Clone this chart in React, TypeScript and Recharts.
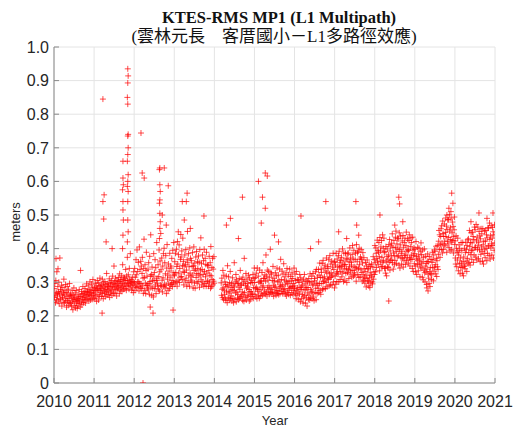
import React from 'react';
import { ScatterChart, Scatter, XAxis, YAxis, CartesianGrid } from 'recharts';

const xTicks = [2010, 2011, 2012, 2013, 2014, 2015, 2016, 2017, 2018, 2019, 2020, 2021];
const yTicks = [0, 0.1, 0.2, 0.3, 0.4, 0.5, 0.6, 0.7, 0.8, 0.9, 1];
const yTickLabels = ['0', '0.1', '0.2', '0.3', '0.4', '0.5', '0.6', '0.7', '0.8', '0.9', '1.0'];

// MP1 values in mm, one string per month (empty = no data)
const mp2010 = [
  '281 254 296 262 239 305 270 248 331 266', '259 287 244 271 300 236 265 372 252 278',
  '248 273 291 229 262 255 284 240 268 309', '262 238 276 251 293 244 270 226 258 287',
  '245 268 231 279 252 240 296 259 236 264', '238 261 227 253 275 244 218 262 249 283',
  '231 256 242 268 224 249 275 238 253 222', '246 229 263 251 237 278 244 258 226 335',
  '258 241 272 233 266 249 287 254 239 268', '264 247 281 256 238 273 261 295 249 270',
  '272 251 289 263 244 278 259 301 268 247', '276 259 294 268 249 283 308 262 274 253',
];
const mp2011 = [
  '268 284 252 297 275 259 288 243 279 305', '281 263 298 247 276 290 258 312 270 286',
  '276 294 258 281 309 266 289 251 298 274', '285 268 302 257 279 293 271 326 262 288',
  '279 296 263 288 274 310 255 283 299 268', '292 274 305 261 287 318 279 296 266 348',
  '285 301 268 294 312 277 289 259 305 282', '297 279 314 288 302 266 325 291 276 308',
  '301 284 319 273 296 352 288 307 279 315', '294 312 281 305 338 289 276 318 298 374',
  '305 288 322 296 279 341 309 292 385 301', '289 307 276 298 315 283 302 269 331 294',
];
const mp2012 = [
  '298 341 276 315 289 367 322 284 396 301', '332 287 359 301 274 405 296 338 283 362',
  '295 348 281 326 374 289 312 267 341 428', '314 276 352 297 266 335 389 291 318 282',
  '291 339 277 358 296 264 377 302 318 441', '286 323 261 345 304 282 318 256 385 306',
  '329 281 367 292 343 266 305 418 312 297', '288 352 279 317 396 274 331 363 291 445',
  '337 289 372 306 271 348 313 385 287 401', '294 358 283 325 379 291 266 342 412 309',
  '321 276 354 297 333 281 386 315 292 348', '342 294 371 305 287 395 328 299 418 319',
];
const mp2013 = [
  '322 361 295 386 329 302 398 347 288 421', '354 306 382 327 411 299 341 315 368 442',
  '375 317 393 308 349 431 331 362 292 348', '329 381 304 352 397 312 336 288 367 451',
  '358 299 385 321 346 288 402 327 371 306', '316 364 301 347 388 321 283 349 405 335',
  '298 357 282 339 375 314 391 326 297 361', '341 302 378 324 359 285 397 319 336 432',
  '307 355 292 338 381 301 323 364 288 398', '332 296 371 316 353 288 389 327 302 349',
  '304 351 288 335 377 298 321 358 282 406', '319 287 344 308 371 292 339 303 376 297',
];
const mp2014 = [
  '', '',
  '298 261 312 279 254 335 283 248 321 276', '264 301 252 293 246 318 271 287 239 349',
  '291 255 316 273 247 299 268 332 251 284', '259 296 244 278 313 252 291 239 275 358',
  '286 249 301 268 323 242 307 271 296 253', '263 297 248 285 311 252 279 335 257 291',
  '292 259 308 271 246 315 264 297 243 371', '269 303 254 291 326 247 282 309 258 286',
  '296 261 321 278 244 313 272 248 299 264', '271 306 257 298 265 323 252 284 311 342',
];
const mp2015 = [
  '299 264 314 281 256 327 285 251 342 278', '273 318 261 300 252 336 279 303 258 297',
  '304 268 329 285 261 358 289 311 266 312', '277 322 264 303 381 271 318 259 336 284',
  '306 271 332 289 264 315 282 398 269 328', '278 324 266 305 271 347 291 258 312 285',
  '303 269 328 286 261 319 274 342 266 301', '275 321 263 304 282 339 266 292 368 287',
  '308 273 333 291 266 324 278 355 271 306', '281 316 265 294 328 259 303 341 269 297',
  '276 322 264 303 281 339 288 261 317 284', '304 269 328 287 311 263 296 275 342 281',
];
const mp2016 = [
  '289 324 266 305 251 332 277 261 308 283', '271 306 248 299 265 323 284 242 313 278',
  '286 251 303 264 291 238 309 256 277 323', '261 295 238 279 306 253 284 229 302 268',
  '284 249 311 262 298 247 325 253 278 302', '273 318 251 291 268 326 256 294 245 311',
  '304 269 331 282 248 338 297 266 315 291', '282 338 269 321 296 357 275 314 264 339',
  '329 296 356 278 313 365 302 281 342 316', '304 351 281 333 299 372 328 286 347 311',
  '341 308 367 289 325 379 314 292 354 328', '316 363 292 345 321 386 301 338 359 283',
];
const mp2017 = [
  '362 318 351 294 386 327 302 369 331 346', '324 379 301 392 343 358 308 365 332 347',
  '374 316 349 399 328 363 302 387 339 352', '306 353 386 326 371 341 299 367 329 384',
  '387 338 311 361 346 402 324 372 334 359', '351 315 382 409 335 369 318 395 346 328',
  '321 367 386 344 303 412 339 361 388 323', '392 341 314 401 352 369 316 375 337 397',
  '368 329 303 357 388 322 306 373 341 315', '297 332 359 311 286 348 321 366 303 339',
  '341 304 289 353 313 284 328 346 298 321', '354 316 301 295 345 376 309 331 367 323',
];
const mp2018 = [
  '409 358 331 402 386 344 371 425 363 395', '352 389 418 376 334 433 361 393 405 346',
  '424 374 346 441 358 401 365 431 388 341', '391 342 327 406 361 319 376 399 346 369',
  '344 381 412 359 427 336 393 365 408 378', '416 366 444 358 404 339 387 424 379 352',
  '365 403 434 452 391 356 414 376 431 399', '429 379 351 447 397 342 411 437 373 386',
  '354 392 423 371 439 345 404 366 418 379', '431 381 353 409 449 364 392 374 429 397',
  '357 394 424 441 372 348 406 368 432 381', '418 368 341 434 396 332 379 402 355 385',
];
const mp2019 = [
  '398 348 331 421 376 323 369 352 404 364', '334 381 401 354 369 316 392 345 417 357',
  '382 342 315 396 361 307 374 336 399 328', '301 348 377 331 356 293 339 362 384 324',
  '361 312 296 376 331 287 344 326 368 308', '322 359 389 343 367 304 381 333 396 345',
  '392 352 325 407 371 317 364 346 409 338', '383 422 454 397 441 374 412 436 459 398',
  '468 416 387 482 445 397 436 411 473 422', '408 448 491 436 467 389 457 422 486 414',
  '486 433 403 501 452 393 462 427 491 419', '397 447 479 424 466 387 436 456 494 412',
];
const mp2020 = [
  '423 372 354 438 401 346 393 366 431 388', '334 381 411 355 399 325 372 344 418 357',
  '394 344 327 418 362 319 375 347 401 351', '340 388 419 363 397 332 409 371 426 355',
  '429 388 359 454 406 351 418 382 447 394', '368 417 449 396 436 359 427 381 464 403',
  '456 404 375 472 423 366 434 398 464 410', '370 419 451 396 438 361 429 383 459 405',
  '444 392 363 459 411 354 422 386 452 398', '373 422 454 401 441 364 432 386 462 408',
  '461 408 379 476 427 369 438 402 468 414', '381 431 463 409 450 372 441 395 471 417',
];

const years: [number, string[]][] = [
  [2010, mp2010], [2011, mp2011], [2012, mp2012], [2013, mp2013], [2014, mp2014], [2015, mp2015],
  [2016, mp2016], [2017, mp2017], [2018, mp2018], [2019, mp2019], [2020, mp2020],
];

// isolated points: [decimal year, meters]
const outliers: [number, number][] = [
  [2010.05, 0.37], [2010.1, 0.34], [2011.22, 0.845], [2011.25, 0.56], [2011.22, 0.54], [2011.24, 0.488],
  [2011.2, 0.208], [2011.3, 0.42], [2011.45, 0.4],
  [2011.84, 0.935], [2011.85, 0.914], [2011.84, 0.893], [2011.83, 0.85], [2011.84, 0.83], [2011.85, 0.74],
  [2011.84, 0.735], [2011.85, 0.7], [2011.84, 0.68], [2011.83, 0.66], [2011.85, 0.62], [2011.84, 0.6],
  [2011.83, 0.585], [2011.85, 0.57], [2011.84, 0.54], [2011.84, 0.485], [2011.85, 0.45], [2011.83, 0.42],
  [2011.72, 0.66], [2011.72, 0.61], [2011.73, 0.59], [2011.71, 0.575], [2011.72, 0.54], [2011.72, 0.515],
  [2011.73, 0.485], [2011.72, 0.44], [2011.71, 0.4],
  [2012.17, 0.744], [2012.2, 0.625], [2012.25, 0.61], [2012.22, 0.0], [2012.47, 0.208], [2012.4, 0.226],
  [2012.64, 0.64], [2012.63, 0.635], [2012.64, 0.59], [2012.65, 0.57], [2012.64, 0.545], [2012.63, 0.535],
  [2012.64, 0.505], [2012.65, 0.48], [2012.64, 0.46], [2012.63, 0.43],
  [2012.75, 0.64], [2012.85, 0.587], [2012.7, 0.5], [2012.8, 0.47], [2012.97, 0.217],
  [2013.2, 0.54], [2013.3, 0.54], [2013.32, 0.565], [2013.25, 0.485], [2013.1, 0.45], [2013.4, 0.46],
  [2013.74, 0.497], [2014.4, 0.49], [2014.3, 0.47], [2014.7, 0.553], [2014.6, 0.43],
  [2015.1, 0.6], [2015.27, 0.625], [2015.32, 0.616], [2015.2, 0.553], [2015.27, 0.52], [2015.17, 0.476],
  [2015.5, 0.44], [2015.6, 0.42], [2016.16, 0.497], [2016.78, 0.54], [2016.4, 0.4], [2016.6, 0.42],
  [2017.53, 0.54], [2017.55, 0.47], [2017.1, 0.45], [2017.6, 0.44], [2017.3, 0.43],
  [2018.13, 0.5], [2018.6, 0.553], [2018.62, 0.533], [2018.35, 0.244], [2018.5, 0.47], [2018.7, 0.48],
  [2019.3, 0.283], [2019.33, 0.274], [2019.92, 0.565], [2019.85, 0.52], [2019.95, 0.535], [2019.8, 0.5],
  [2019.9, 0.51], [2020.6, 0.506], [2020.95, 0.506], [2020.4, 0.48], [2020.8, 0.49],
];

const points: { t: number; v: number }[] = [];
years.forEach(([yr, months]) => {
  months.forEach((s, m) => {
    const vals = s.split(' ').filter(Boolean);
    vals.forEach((val, i) => {
      points.push({ t: yr + (m + (i + 0.5) / vals.length) / 12, v: Number(val) / 1000 });
    });
  });
});
outliers.forEach(([t, v]) => points.push({ t, v }));

const AXIS = '#8a8a8a';
const LABEL = '#262626';
const TICK_LEN = 5;
const sans = '"Liberation Sans", Arial, sans-serif';

const PlusMark = (props: any) => {
  const { cx, cy } = props;
  if (cx == null || cy == null) return null;
  return (
    <path
      d={`M${cx - 3},${cy}h6M${cx},${cy - 3}v6`}
      stroke="#ff0000"
      strokeWidth={1}
      strokeOpacity={0.7}
      fill="none"
    />
  );
};

const BottomTick = ({ x, y, payload }: any) => (
  <g>
    <line x1={x} x2={x} y1={y} y2={y - TICK_LEN} stroke={AXIS} />
    <text x={x} y={y + 24} textAnchor="middle" fontSize={16} fill={LABEL} fontFamily={sans}>
      {payload.value}
    </text>
  </g>
);

const LeftTick = ({ x, y, payload, index }: any) => (
  <g>
    <line x1={x} x2={x + TICK_LEN} y1={y} y2={y} stroke={AXIS} />
    <text x={x - 5} y={y} dy="0.36em" textAnchor="end" fontSize={16} fill={LABEL} fontFamily={sans}>
      {yTickLabels[index] ?? payload.value}
    </text>
  </g>
);

const TopTick = ({ x, y }: any) => <line x1={x} x2={x} y1={y} y2={y + TICK_LEN} stroke={AXIS} />;
const RightTick = ({ x, y }: any) => <line x1={x} x2={x - TICK_LEN} y1={y} y2={y} stroke={AXIS} />;

export default function App() {
  return (
    <div style={{ position: 'absolute', left: 0, top: 0, width: 513, height: 427 }}>
      <ScatterChart width={513} height={427} margin={{ top: 47, right: 18, bottom: 0, left: 0 }}>
        <CartesianGrid stroke="#e4e4e4" horizontalValues={yTicks} verticalValues={xTicks} />
        <XAxis
          dataKey="t"
          type="number"
          domain={[2010, 2021]}
          ticks={xTicks}
          height={44}
          tickSize={0}
          tickMargin={0}
          tickLine={false}
          tick={<BottomTick />}
          axisLine={{ stroke: AXIS }}
          allowDataOverflow
        />
        <XAxis
          xAxisId="top"
          orientation="top"
          type="number"
          domain={[2010, 2021]}
          ticks={xTicks}
          height={0}
          tickSize={0}
          tickMargin={0}
          tickLine={false}
          tick={<TopTick />}
          axisLine={{ stroke: AXIS }}
        />
        <YAxis
          dataKey="v"
          type="number"
          domain={[0, 1]}
          ticks={yTicks}
          width={54}
          tickSize={0}
          tickMargin={0}
          tickLine={false}
          tick={<LeftTick />}
          axisLine={{ stroke: AXIS }}
          allowDataOverflow
        />
        <YAxis
          yAxisId="right"
          orientation="right"
          type="number"
          domain={[0, 1]}
          ticks={yTicks}
          width={0}
          tickSize={0}
          tickMargin={0}
          tickLine={false}
          tick={<RightTick />}
          axisLine={{ stroke: AXIS }}
        />
        <Scatter data={points} dataKey="v" shape={PlusMark} isAnimationActive={false} />
      </ScatterChart>
      <svg
        width={513}
        height={427}
        style={{ position: 'absolute', left: 0, top: 0, pointerEvents: 'none' }}
      >
        <text
          x={279}
          y={23}
          textAnchor="middle"
          fontSize={16.5}
          fontWeight="bold"
          fill="#111"
          fontFamily='"Liberation Serif", "Times New Roman", serif'
        >
          KTES-RMS MP1 (L1 Multipath)
        </text>
        <text
          x={274}
          y={42}
          textAnchor="middle"
          fontSize={17}
          fill="#111"
          fontFamily='"Liberation Serif", "Noto Sans CJK TC", serif'
        >
          (雲林元長　客厝國小－L1多路徑效應)
        </text>
        <text
          x={15}
          y={222}
          transform="rotate(-90 15 222)"
          textAnchor="middle"
          dy="0.35em"
          fontSize={13}
          fill={LABEL}
          fontFamily={sans}
        >
          meters
        </text>
        <text x={275} y={425} textAnchor="middle" fontSize={13} fill={LABEL} fontFamily={sans}>
          Year
        </text>
      </svg>
    </div>
  );
}
